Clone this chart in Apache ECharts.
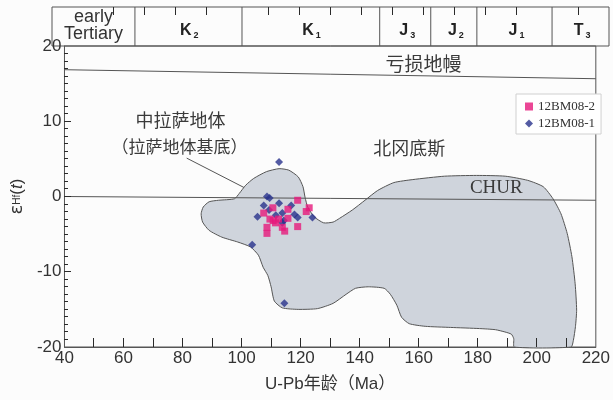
<!DOCTYPE html>
<html>
<head>
<meta charset="utf-8">
<script src="https://cdn.jsdelivr.net/npm/echarts@6/dist/echarts.min.js"></script>
<style>
  html, body { margin: 0; padding: 0; background: #fcfcfc; }
  #chart { width: 613px; height: 400px; }
</style>
</head>
<body>
<div id="chart"></div>
<script>
// Geological time scale shown in the header band (boundaries in Ma)
const periodSymbols = ['early\nTertiary', 'K', 'K', 'J', 'J', 'J', 'T'];
const periodSubscripts = ['', '2', '1', '3', '2', '1', '3'];
const periodBounds = [40, 66.8, 101.4, 145.9, 162.4, 177.3, 201.6, 220];
const headerTickAges = [60, 70, 80, 90, 110, 120, 130, 140, 150, 160, 170, 180, 190, 210];

// Tick positions of the age axis (every 10 Ma) and of the εHf axis (every unit)
const ageTicks = [50, 60, 70, 80, 90, 100, 110, 120, 130, 140, 150, 160, 170, 180, 190, 200, 210];
const hfMajorTicks = [-10, 0, 10];
const hfMinorTicks = [-19, -18, -17, -16, -15, -14, -13, -12, -11, -9, -8, -7, -6, -5, -4, -3, -2, -1,
  1, 2, 3, 4, 5, 6, 7, 8, 9, 11, 12, 13, 14, 15, 16, 17, 18, 19];

// Zircon U-Pb age (Ma) vs εHf(t)
const sample2Age = [119.0, 110.6, 107.5, 115.7, 122.9, 121.9, 112.5, 110.7, 111.5, 115.7, 113.8, 114.6, 119.0, 108.6, 108.6, 109.6];
const sample2Hf  = [-0.5, -1.5, -2.2, -1.7, -1.5, -2.0, -3.0, -3.2, -3.5, -2.9, -4.1, -4.6, -4.0, -4.1, -4.9, -3.0];
const sample1Age = [112.7, 108.6, 109.5, 107.5, 112.7, 116.8, 109.3, 113.8, 105.4, 111.6, 117.9, 119.0, 124.0, 114.3, 113.8, 103.6, 114.5];
const sample1Hf  = [4.6, 0.0, -0.2, -1.2, -0.9, -1.2, -1.8, -2.2, -2.7, -2.5, -2.4, -2.8, -2.8, -3.2, -3.5, -6.4, -14.2];

// Outline of the Gangdese / Lhasa basement field
const fieldOutline = [
  [112.7, 3.7], [116.0, 3.5], [119.2, 2.6], [120.8, 1.3], [121.5, -0.1], [122.4, -1.4],
  [124.6, -2.7], [127.8, -3.5], [131.0, -3.4], [133.2, -2.9], [137.5, -1.8], [141.8, -0.5],
  [146.1, 0.8], [151.6, 1.85], [158.0, 2.25], [168.8, 2.7], [179.6, 2.8], [189.3, 2.7],
  [196.9, 2.15], [202.2, 1.3], [205.5, -0.3], [208.2, -2.3], [210.3, -4.9], [211.9, -8.0],
  [213.0, -11.6], [213.5, -15.1], [213.1, -17.3], [212.4, -19.1], [211.6, -20],
  [192.4, -20], [192.2, -18.9], [191.4, -18.3], [189.2, -18.0], [186.0, -17.7],
  [180.6, -17.55], [170.8, -17.4], [162.2, -17.25], [156.8, -16.9], [154.2, -16.05],
  [152.6, -14.45], [150.4, -13.0], [148.3, -12.2], [142.9, -12.0], [138.6, -12.2],
  [135.4, -13.0], [131.0, -14.2], [125.7, -14.9], [119.2, -15.0], [113.8, -14.8],
  [111.1, -13.9], [110.0, -12.0], [108.9, -10.5], [107.3, -9.4], [105.7, -7.8],
  [103.0, -6.7], [98.7, -6.05], [93.3, -5.4], [89.0, -4.5], [86.8, -3.4], [86.3, -2.3],
  [87.0, -1.4], [89.0, -0.7], [92.2, -0.5], [97.6, -0.3], [99.2, 0.4], [101.4, 1.5],
  [104.1, 2.4], [108.4, 3.3]
];

// Reference lines
const depletedMantleLine = [[40, 16.85], [220, 15.65]];
const churLine = [[40, 0.0], [220, -0.5]];
const leaderLine = [[81.4, 5.1], [100.8, 1.2]];

// Text annotations inside the plot
const annotationTexts = ['亏损地幔', '北冈底斯', 'CHUR', '中拉萨地体', '（拉萨地体基底）'];
const annotationPos = [[161.6, 17.7], [156.8, 6.4], [186.3, 1.1], [79.3, 10.1], [79.0, 6.7]];
const annotationFonts = [
  { fontFamily: 'Noto Sans CJK SC', fontSize: 19 },
  { fontFamily: 'Noto Sans CJK SC', fontSize: 18 },
  { fontFamily: 'Liberation Serif', fontSize: 19 },
  { fontFamily: 'Noto Sans CJK SC', fontSize: 18 },
  { fontFamily: 'Noto Sans CJK SC', fontSize: 17 }
];

const zip = (a, b) => a.map((v, i) => [v, b[i]]);
const AXIS_COLOR = '#555';
const TICK_COLOR = '#2a2a2a';
const TEXT_COLOR = '#333';

// Tick marks drawn as thin filled bars, anchored on axis coordinates.
// dir: 'up' (from bottom axis), 'down' (from top border), 'right' (from left axis)
function tickBar(p, len, dir) {
  const x = Math.floor(p[0]), y = Math.floor(p[1]);
  if (dir === 'up') return { type: 'rect', shape: { x: x, y: y - len, width: 1, height: len }, style: { fill: TICK_COLOR } };
  if (dir === 'down') return { type: 'rect', shape: { x: x, y: y, width: 1, height: len }, style: { fill: TICK_COLOR } };
  return { type: 'rect', shape: { x: x, y: y, width: len, height: 1 }, style: { fill: TICK_COLOR } };
}

const chart = echarts.init(document.getElementById('chart'));

const option = {
  backgroundColor: '#fcfcfc',
  animation: false,
  grid: [
    { left: 52, right: 4, top: 7, height: 39, show: true, borderColor: AXIS_COLOR, borderWidth: 1 },
    { left: 52, right: 4, top: 46, bottom: 53, show: true, borderColor: AXIS_COLOR, borderWidth: 1 }
  ],
  xAxis: [
    { gridIndex: 0, type: 'value', min: 40, max: 220, show: false },
    {
      gridIndex: 1, type: 'value', min: 40, max: 220, interval: 20,
      axisLine: { show: true, onZero: false, lineStyle: { color: AXIS_COLOR, width: 1 } },
      axisTick: { show: false },
      splitLine: { show: false },
      axisLabel: { margin: 3, fontSize: 17, color: TEXT_COLOR, fontFamily: 'Liberation Sans' },
      name: 'U-Pb年龄（Ma）', nameLocation: 'middle', nameGap: 29,
      nameTextStyle: { fontSize: 17, color: TEXT_COLOR, fontFamily: 'Liberation Sans, Noto Sans CJK SC' }
    }
  ],
  yAxis: [
    { gridIndex: 0, type: 'value', min: 0, max: 1, show: false },
    {
      gridIndex: 1, type: 'value', min: -20, max: 20, interval: 10,
      axisLine: { show: true, onZero: false, lineStyle: { color: AXIS_COLOR, width: 1 } },
      axisTick: { show: false },
      splitLine: { show: false },
      axisLabel: { margin: 3, fontSize: 17, color: TEXT_COLOR, fontFamily: 'Liberation Sans' },
      name: '{e|ε}{s|Hf}{p|(}{t|t}{p|)}', nameLocation: 'middle', nameGap: 36, nameRotate: 90,
      nameTextStyle: {
        color: TEXT_COLOR,
        rich: {
          e: { fontSize: 18, fontFamily: 'DejaVu Sans', color: TEXT_COLOR },
          s: { fontSize: 10, fontFamily: 'Liberation Sans', color: TEXT_COLOR },
          p: { fontSize: 17, fontFamily: 'Liberation Sans', color: TEXT_COLOR },
          t: { fontSize: 17, fontFamily: 'Liberation Sans', fontStyle: 'italic', color: TEXT_COLOR }
        }
      }
    }
  ],
  legend: {
    orient: 'vertical', left: 516, top: 94,
    padding: [6, 6, 4, 9], itemGap: 4, itemWidth: 8, itemHeight: 8,
    backgroundColor: '#fff', borderColor: '#d0d0d0', borderWidth: 1,
    textStyle: { fontFamily: 'Liberation Serif', fontSize: 13, color: TEXT_COLOR },
    data: ['12BM08-2', '12BM08-1']
  },
  series: [
    // Header band: small ticks hanging from the top border
    {
      type: 'custom', xAxisIndex: 0, yAxisIndex: 0, silent: true, z: 8,
      data: headerTickAges.map(a => [a, 1]),
      renderItem: function (params, api) {
        return tickBar(api.coord([api.value(0), api.value(1)]), 8, 'down');
      }
    },
    // Header band: period cells, dividers and labels (letter + subscript)
    {
      type: 'custom', xAxisIndex: 0, yAxisIndex: 0, silent: true,
      data: periodSymbols.map((s, i) => [periodBounds[i], periodBounds[i + 1]]),
      renderItem: function (params, api) {
        const i = params.dataIndex;
        const x0 = api.value(0), x1 = api.value(1);
        const pTop = api.coord([x1, 1]);
        const pBot = api.coord([x1, 0]);
        const c = api.coord([(x0 + x1) / 2, 0.5]);
        const children = [];
        if (i < periodSymbols.length - 1) {
          children.push({
            type: 'line',
            shape: { x1: pTop[0], y1: pTop[1], x2: pBot[0], y2: pBot[1] },
            style: { stroke: AXIS_COLOR, lineWidth: 1 }
          });
        }
        if (periodSubscripts[i] === '') {
          children.push({
            type: 'text',
            style: {
              text: periodSymbols[i], x: c[0], y: c[1] - 1,
              align: 'center', verticalAlign: 'middle',
              fontSize: 18, lineHeight: 16.5, fontFamily: 'Liberation Sans', fill: TEXT_COLOR
            }
          });
        } else {
          children.push({
            type: 'text',
            style: {
              text: periodSymbols[i], x: c[0] + 3, y: c[1] + 4,
              align: 'right', verticalAlign: 'middle',
              fontSize: 16, fontWeight: 'bold', fontFamily: 'Liberation Sans', fill: '#222'
            }
          });
          children.push({
            type: 'text',
            style: {
              text: periodSubscripts[i], x: c[0] + 5, y: c[1] + 9,
              align: 'left', verticalAlign: 'middle',
              fontSize: 9, fontWeight: 'bold', fontFamily: 'Liberation Sans', fill: '#222'
            }
          });
        }
        return { type: 'group', children: children };
      }
    },
    // Age axis ticks, pointing up from the bottom axis
    {
      type: 'custom', xAxisIndex: 1, yAxisIndex: 1, silent: true, z: 8,
      data: ageTicks.map(a => [a, -20]),
      renderItem: function (params, api) {
        return tickBar(api.coord([api.value(0), api.value(1)]), 9, 'up');
      }
    },
    // εHf axis ticks: majors and unit minors, pointing right from the left axis
    {
      type: 'custom', xAxisIndex: 1, yAxisIndex: 1, silent: true, z: 8,
      data: hfMajorTicks.map(v => [40, v, 7]).concat(hfMinorTicks.map(v => [40, v, 4])),
      renderItem: function (params, api) {
        return tickBar(api.coord([api.value(0), api.value(1)]), api.value(2), 'right');
      }
    },
    // Gangdese field
    {
      type: 'custom', xAxisIndex: 1, yAxisIndex: 1, silent: true, z: 1,
      data: [[40, 0]],
      renderItem: function (params, api) {
        const pts = fieldOutline.map(p => api.coord(p));
        return {
          type: 'polygon',
          shape: { points: pts, smooth: 0.2 },
          style: { fill: '#cfd4dc', stroke: '#555', lineWidth: 1 }
        };
      }
    },
    {
      name: 'depleted mantle', type: 'line', xAxisIndex: 1, yAxisIndex: 1, z: 3, silent: true,
      data: depletedMantleLine, symbol: 'none', lineStyle: { color: '#555', width: 1 }
    },
    {
      name: 'CHUR line', type: 'line', xAxisIndex: 1, yAxisIndex: 1, z: 3, silent: true,
      data: churLine, symbol: 'none', lineStyle: { color: '#555', width: 1 }
    },
    {
      name: 'leader', type: 'line', xAxisIndex: 1, yAxisIndex: 1, z: 3, silent: true,
      data: leaderLine, symbol: 'none', lineStyle: { color: '#555', width: 1 }
    },
    // Text annotations
    {
      type: 'custom', xAxisIndex: 1, yAxisIndex: 1, silent: true, z: 4,
      data: annotationPos,
      renderItem: function (params, api) {
        const i = params.dataIndex;
        const p = api.coord([api.value(0), api.value(1)]);
        return {
          type: 'text',
          style: Object.assign({
            text: annotationTexts[i], x: p[0], y: p[1],
            align: 'center', verticalAlign: 'middle', fill: '#3a3a3a'
          }, annotationFonts[i])
        };
      }
    },
    {
      name: '12BM08-1', type: 'scatter', xAxisIndex: 1, yAxisIndex: 1, z: 5,
      symbol: 'diamond', symbolSize: 8,
      itemStyle: { color: '#28328c' },
      data: zip(sample1Age, sample1Hf)
    },
    {
      name: '12BM08-2', type: 'scatter', xAxisIndex: 1, yAxisIndex: 1, z: 6,
      symbol: 'rect', symbolSize: 7,
      itemStyle: { color: '#e6197c' },
      data: zip(sample2Age, sample2Hf)
    }
  ]
};

chart.setOption(option);
</script>
</body>
</html>
